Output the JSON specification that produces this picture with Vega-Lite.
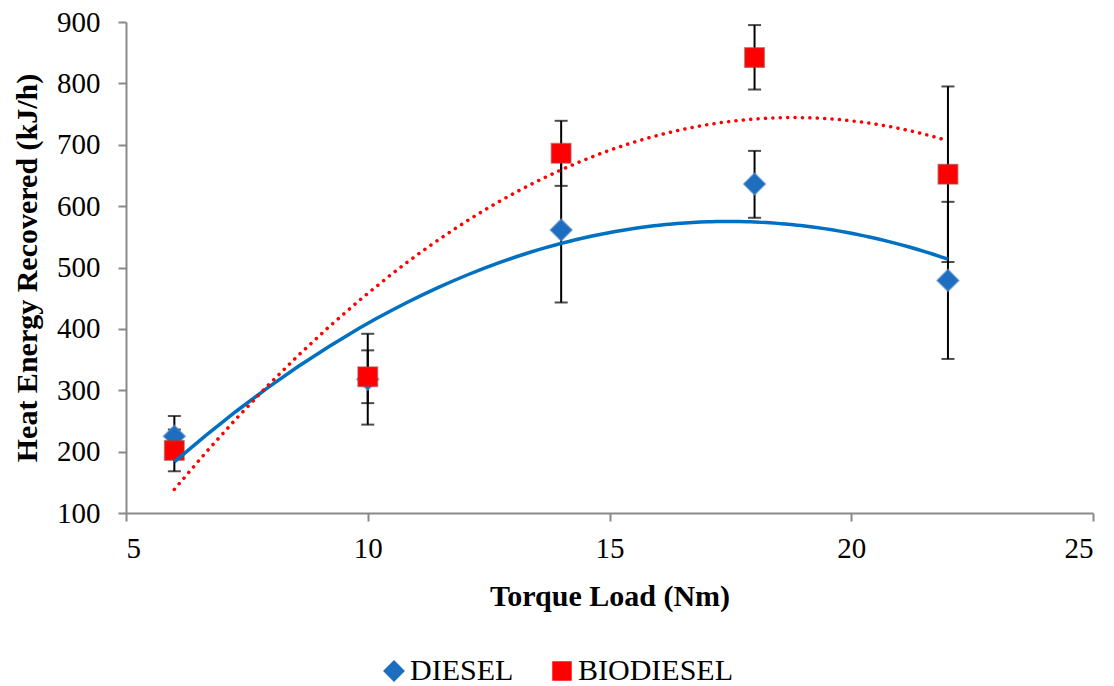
{
  "$schema": "https://vega.github.io/schema/vega-lite/v6.json",
  "width": 967,
  "height": 491,
  "autosize": "none",
  "padding": {"left": 126, "top": 22, "right": 21, "bottom": 173},
  "background": "white",
  "config": {
    "view": {"stroke": null},
    "font": "Liberation Serif",
    "axis": {
      "grid": false,
      "domainColor": "#898989",
      "domainWidth": 2,
      "tickColor": "#898989",
      "tickWidth": 2,
      "tickSize": 8,
      "labelFont": "Liberation Serif",
      "labelFontSize": 29,
      "labelColor": "black",
      "titleFont": "Liberation Serif",
      "titleFontSize": 30,
      "titleFontWeight": "bold",
      "titleColor": "black"
    },
    "legend": {
      "labelFont": "Liberation Serif",
      "labelFontSize": 30,
      "labelColor": "black"
    }
  },
  "data": {
    "values": [
      {"series": "DIESEL", "torque": 6, "value": 225, "lo": 192, "hi": 258},
      {"series": "DIESEL", "torque": 10, "value": 318, "lo": 244, "hi": 392},
      {"series": "DIESEL", "torque": 14, "value": 561, "lo": 443, "hi": 679},
      {"series": "DIESEL", "torque": 18, "value": 636, "lo": 581, "hi": 690},
      {"series": "DIESEL", "torque": 22, "value": 479, "lo": 351, "hi": 607},
      {"series": "BIODIESEL", "torque": 6, "value": 202, "lo": 168, "hi": 236},
      {"series": "BIODIESEL", "torque": 10, "value": 322, "lo": 279, "hi": 365},
      {"series": "BIODIESEL", "torque": 14, "value": 686, "lo": 633, "hi": 739},
      {"series": "BIODIESEL", "torque": 18, "value": 842, "lo": 790, "hi": 895},
      {"series": "BIODIESEL", "torque": 22, "value": 652, "lo": 509, "hi": 795}
    ]
  },
  "layer": [
    {
      "mark": {"type": "rule", "color": "black", "strokeWidth": 2},
      "encoding": {
        "x": {"field": "torque", "type": "quantitative", "scale": {"domain": [5, 25], "nice": false},
              "axis": {"values": [5, 10, 15, 20, 25], "title": "Torque Load (Nm)", "labelPadding": 13, "titlePadding": 18}},
        "y": {"field": "lo", "type": "quantitative", "scale": {"domain": [100, 900], "nice": false},
              "axis": {"values": [100, 200, 300, 400, 500, 600, 700, 800, 900], "title": "Heat Energy Recovered (kJ/h)", "labelPadding": 18, "titlePadding": 14}},
        "y2": {"field": "hi"}
      }
    },
    {
      "mark": {"type": "tick", "orient": "horizontal", "color": "black", "size": 13, "thickness": 2},
      "encoding": {
        "x": {"field": "torque", "type": "quantitative"},
        "y": {"field": "lo", "type": "quantitative"}
      }
    },
    {
      "mark": {"type": "tick", "orient": "horizontal", "color": "black", "size": 13, "thickness": 2},
      "encoding": {
        "x": {"field": "torque", "type": "quantitative"},
        "y": {"field": "hi", "type": "quantitative"}
      }
    },
    {
      "mark": {"type": "point", "filled": true, "opacity": 1, "strokeWidth": 1.5, "strokeOpacity": 0.6},
      "encoding": {
        "x": {"field": "torque", "type": "quantitative"},
        "y": {"field": "value", "type": "quantitative"},
        "color": {"field": "series", "type": "nominal",
                  "scale": {"domain": ["DIESEL", "BIODIESEL"], "range": ["#1E6EC0", "#FF0000"]},
                  "legend": {"title": null, "orient": "none", "legendX": 253, "legendY": 634, "direction": "horizontal",
                             "symbolSize": 380, "labelOffset": 1, "columnPadding": 33, "symbolStrokeWidth": 0}},
        "shape": {"field": "series", "type": "nominal",
                  "scale": {"domain": ["DIESEL", "BIODIESEL"], "range": ["diamond", "square"]}},
        "size": {"field": "series", "type": "nominal",
                 "scale": {"domain": ["DIESEL", "BIODIESEL"], "range": [480, 380]}, "legend": null},
        "stroke": {"field": "series", "type": "nominal",
                   "scale": {"domain": ["DIESEL", "BIODIESEL"], "range": ["#5B8FD0", "#B03A3A"]}, "legend": null},
        "order": {"field": "series", "sort": "descending"}
      }
    },
    {
      "transform": [
        {"filter": "datum.series === 'DIESEL'"},
        {"regression": "value", "on": "torque", "method": "poly", "order": 2, "extent": [6, 22]}
      ],
      "mark": {"type": "line", "color": "#0070C0", "strokeWidth": 3.5},
      "encoding": {
        "x": {"field": "torque", "type": "quantitative"},
        "y": {"field": "value", "type": "quantitative"}
      }
    },
    {
      "transform": [
        {"filter": "datum.series === 'BIODIESEL'"},
        {"regression": "value", "on": "torque", "method": "poly", "order": 2, "extent": [6, 22]}
      ],
      "mark": {"type": "line", "color": "#FF0000", "strokeWidth": 3.5, "strokeDash": [0.1, 7.3], "strokeCap": "round"},
      "encoding": {
        "x": {"field": "torque", "type": "quantitative"},
        "y": {"field": "value", "type": "quantitative"}
      }
    }
  ]
}
